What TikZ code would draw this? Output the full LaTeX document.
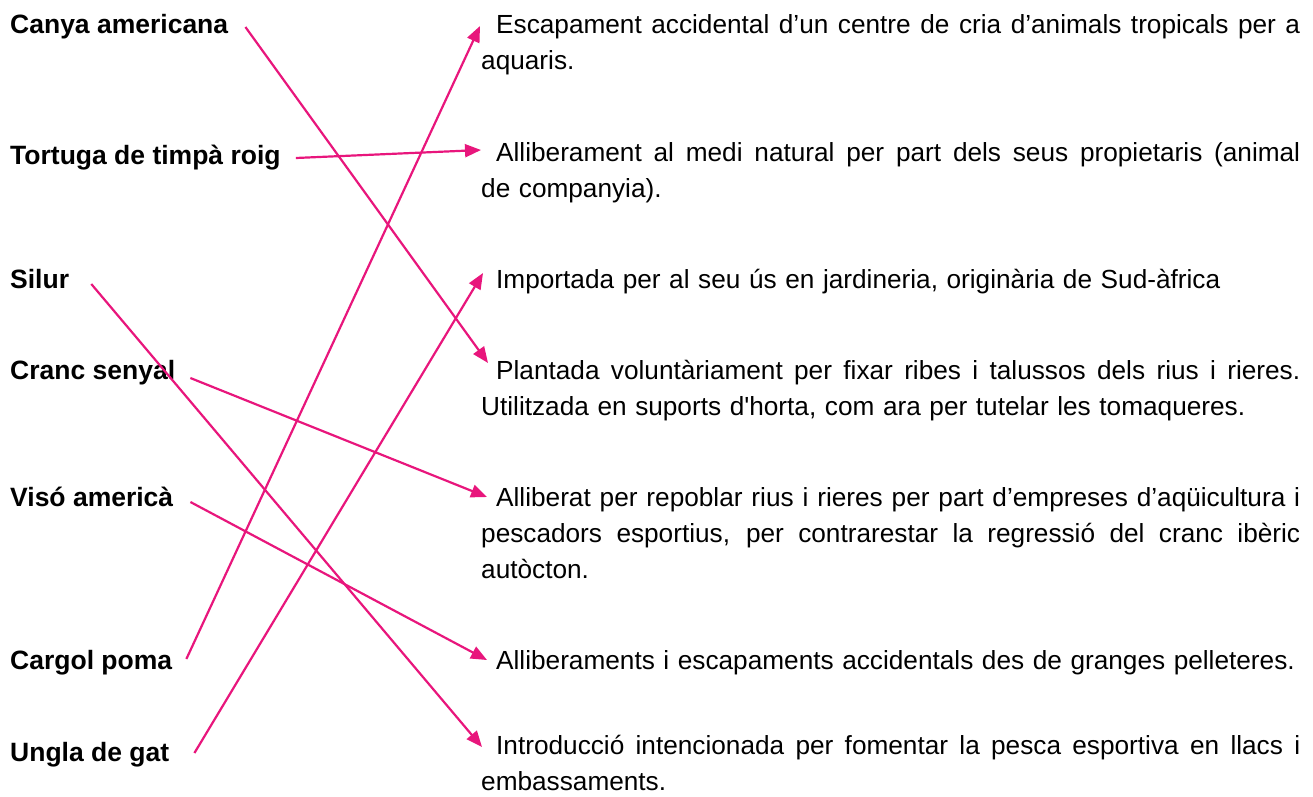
\documentclass[tikz,border=0pt]{standalone}
\usepackage{fontspec}
\setmainfont{Liberation Sans}[Ligatures=TeXOff]
\usetikzlibrary{arrows.meta}
\definecolor{rosa}{RGB}{232,22,124}

\begin{document}
\begin{tikzpicture}[x=1pt, y=-1pt,
	especie/.style={anchor=base west, inner sep=0pt, font=\fontsize{26.5}{36}\selectfont\bfseries},
	motiu/.style={anchor=base west, inner sep=0pt, text width=819pt, align=justify, font=\fontsize{26.2}{36}\selectfont,
		execute at begin node={\spaceskip=8.6pt plus 8pt minus 1.5pt\relax}},
	fletxa/.style={rosa, line width=2.2pt, -{Triangle[length=16pt, width=13pt]}}]
	\useasboundingbox (0,0) rectangle (1313,796);
	
	\node [especie] (canya) at (10,33) {Canya americana};
	\node [especie] (tortuga) at (10,164) {Tortuga de timpà roig};
	\node [especie] (silur) at (10,288) {Silur};
	\node [especie] (cranc) at (10,379) {Cranc senyal};
	\node [especie] (viso) at (10,506) {Visó americà};
	\node [especie] (cargol) at (10,669) {Cargol poma};
	\node [especie] (ungla) at (10,761) {Ungla de gat};
	
	\node [motiu] (escapament) at (481,33) {\hspace*{15pt}Escapament accidental d’un centre de cria d’animals tropicals per a\linebreak aquaris.};
	\node [motiu] (alliberament) at (481,161) {\hspace*{15pt}Alliberament al medi natural per part dels seus propietaris (animal\linebreak de companyia).};
	\node [motiu] (importada) at (481,288) {\hspace*{15pt}Importada per al seu ús en jardineria, originària de Sud-àfrica};
	\node [motiu] (plantada) at (481,379) {\hspace*{15pt}Plantada voluntàriament per fixar ribes i talussos dels rius i rieres.\linebreak Utilitzada en suports d'horta, com ara per tutelar les tomaqueres.};
	\node [motiu] (alliberat) at (481,506) {\hspace*{15pt}Alliberat per repoblar rius i rieres per part d’empreses d’aqüicultura i\linebreak pescadors esportius, per contrarestar la regressió del cranc ibèric\linebreak autòcton.};
	\node [motiu] (alliberaments) at (481,669) {\hspace*{15pt}Alliberaments i escapaments accidentals des de granges pelleteres.};
	\node [motiu] (introduccio) at (481,754) {\hspace*{15pt}Introducció intencionada per fomentar la pesca esportiva en llacs i\linebreak embassaments.};
	
	\draw [fletxa] ([shift={(17,-6)}]canya.base east) -- ([shift={(7,-16)}]plantada.base west);
	\draw [fletxa] ([shift={(15,-6)}]tortuga.base east) -- ([shift={(0,-11)}]alliberament.base west);
	\draw [fletxa] ([shift={(22,-4)}]silur.base east) -- ([shift={(1,-7)}]introduccio.base west);
	\draw [fletxa] ([shift={(15,-1)}]cranc.base east) -- ([shift={(6,-9)}]alliberat.base west);
	\draw [fletxa] ([shift={(17,-4)}]viso.base east) -- ([shift={(6,-9)}]alliberaments.base west);
	\draw [fletxa] ([shift={(14,-10)}]cargol.base east) -- ([shift={(-1,-7)}]escapament.base west);
	\draw [fletxa] ([shift={(25,-8)}]ungla.base east) -- ([shift={(2,-15)}]importada.base west);
\end{tikzpicture}
\end{document}
